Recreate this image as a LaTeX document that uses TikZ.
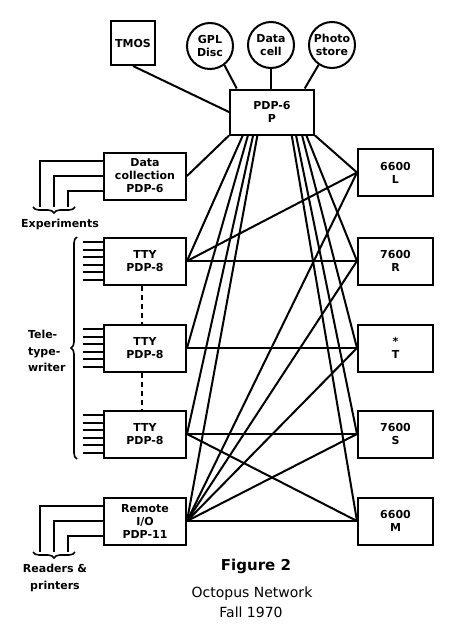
\documentclass[tikz,border=0pt]{standalone}
\usepackage{fontspec}
\setmainfont{DejaVu Sans}
\usetikzlibrary{calc,decorations.pathreplacing}

\begin{document}
\begin{tikzpicture}[x=1pt,y=-1pt,line width=2pt,
	every node/.style={font=\fontsize{11}{13}\selectfont\bfseries,align=center,inner sep=0pt},
	unit/.style={draw,minimum width=82pt,minimum height=47pt},
	mainframe/.style={draw,minimum width=75pt,minimum height=47pt},
	store/.style={draw,circle,minimum size=46pt},
	curly/.style={decorate,decoration={brace,amplitude=6pt},line width=1.6pt}]
	\useasboundingbox (0,0) rectangle (450,640);
	% central machine and its stores
	\node [draw,minimum width=84pt,minimum height=45pt] (pdp6) at (272,112) {PDP-6\\P};
	\node [draw,minimum size=44pt] (tmos) at (133,43) {TMOS};
	\node [store] (gpl) at (210,46) {GPL\\Disc};
	\node [store] (dcell) at (271,45) {Data\\cell};
	\node [store] (photo) at (332,45) {Photo\\store};
	% small machines on the left
	\node [unit] (dc) at (145,176) {Data\\collection\\PDP-6};
	\node [unit] (tty1) at (145,261) {TTY\\PDP-8};
	\node [unit] (tty2) at (145,348) {TTY\\PDP-8};
	\node [unit] (tty3) at (145,434) {TTY\\PDP-8};
	\node [unit] (rio) at (145,521) {Remote\\I/O\\PDP-11};
	% big machines on the right
	\node [mainframe] (l) at (395.5,172.5) {6600\\L};
	\node [mainframe] (r) at (395.5,261) {7600\\R};
	\node [mainframe] (t) at (395.5,348) {*\\T};
	\node [mainframe] (s) at (395.5,434) {7600\\S};
	\node [mainframe] (m) at (395.5,521) {6600\\M};

	\draw (tmos.south) -- (pdp6.west);
	\draw (gpl.-53) -- ($(pdp6.north west)!0.09!(pdp6.north east)$);
	\draw (dcell.south) -- (dcell.south |- pdp6.north);
	\draw (photo.-124) -- ($(pdp6.north west)!0.88!(pdp6.north east)$);
	\draw (pdp6.south west) -- (dc.east);
	\draw (pdp6.south east) -- (l.west);
	\foreach \f/\to in {0.16/tty1,0.22/tty2,0.28/tty3,0.33/rio}
		\draw ($(pdp6.south west)!\f!(pdp6.south east)$) -- (\to.east);
	\foreach \f/\to in {0.73/m,0.78/s,0.85/t,0.9/r}
		\draw ($(pdp6.south west)!\f!(pdp6.south east)$) -- (\to.west);
	\draw (tty1.east) -- (l.west);
	\draw (tty1.east) -- (r.west);
	\draw (tty2.east) -- (t.west);
	\draw (tty3.east) -- (s.west);
	\draw (tty3.east) -- (m.west);
	\foreach \to in {l,r,t,s,m}
		\draw (rio.east) -- (\to.west);

	% teletypes
	\foreach \k in {tty1,tty2,tty3}
		\foreach \d in {-18.75,-11.25,-3.75,3.75,11.25,18.75}
			\draw ($(\k.west)+(0,\d)$) -- ++(-20,0);
	\draw [dash pattern=on 5pt off 4pt] (tty1.south -| 142,0) -- (tty2.north -| 142,0);
	\draw [dash pattern=on 5pt off 4pt] (tty2.south -| 142,0) -- (tty3.north -| 142,0);
	\draw [curly] (77,459) -- (77,237);
	\node [anchor=west,align=left,font=\fontsize{11}{16.5}\selectfont\bfseries] (tw) at (27,351) {Tele-\\type-\\writer};

	% experiments and readers
	\foreach \d/\x in {-15/40,0/54,15/68} {
		\draw ($(dc.west)+(0,\d)$) -| (\x,207);
		\draw ($(rio.west)+(0,\d)$) -| (\x,552);
	}
	\draw [curly] (75,207) -- (33,207);
	\draw [curly] (75,552) -- (33,552);
	\node (exp) at (60,224) {Experiments};
	\node [font=\fontsize{11}{17}\selectfont\bfseries] (rp) at (55,578) {Readers \&\\printers};

	% caption
	\node [anchor=base,font=\fontsize{15}{18}\selectfont\bfseries] (fig) at (256,570) {Figure 2};
	\node [anchor=base,font=\fontsize{14}{18}\selectfont] (oct) at (252,597) {Octopus Network};
	\node [anchor=base,font=\fontsize{14}{18}\selectfont] (fall) at (251,617) {Fall 1970};
\end{tikzpicture}
\end{document}
